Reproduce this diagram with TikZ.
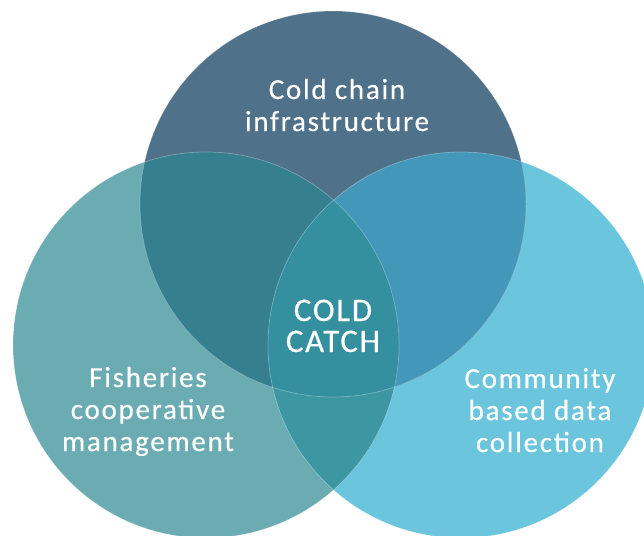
\documentclass[tikz,border=0pt]{standalone}
\usepackage{fontspec}
\setmainfont{Carlito}
\newfontfamily\labelfont{Carlito}[LetterSpace=6,FakeBold=0.4]
\newfontfamily\corefont{Carlito}[LetterSpace=5,FakeBold=0.4]
\begin{document}
\begin{tikzpicture}[x=1pt,y=-1pt,
  lbl/.style={text=white,align=center,font=\labelfont\fontsize{29}{32}\selectfont,inner sep=0pt},
  core/.style={text=white,align=center,font=\corefont\fontsize{33}{31}\selectfont,inner sep=0pt},
  rim/.style={draw=white,draw opacity=0.3,line width=0.7pt}]
\definecolor{cTop}{HTML}{4F718A}
\definecolor{cLeft}{HTML}{6BACB3}
\definecolor{cRight}{HTML}{6AC5DD}
\definecolor{cTL}{HTML}{357F8F}
\definecolor{cTR}{HTML}{4398B9}
\definecolor{cLR}{HTML}{3D97A3}
\definecolor{cAll}{HTML}{348F9E}
\def\R{193pt}
\useasboundingbox (0,0) rectangle (644,535);
\coordinate (T) at (333,204);
\coordinate (L) at (206,345);
\coordinate (Rc) at (461,345);
% single circles
\fill[cLeft] (L) circle[radius=\R];
\fill[cRight] (Rc) circle[radius=\R];
\fill[cTop] (T) circle[radius=\R];
% pairwise overlaps
\begin{scope}
  \clip (T) circle[radius=\R];
  \fill[cTL] (L) circle[radius=\R];
  \fill[cTR] (Rc) circle[radius=\R];
\end{scope}
\begin{scope}
  \clip (L) circle[radius=\R];
  \fill[cLR] (Rc) circle[radius=\R];
  % centre, shared by all three
  \clip (T) circle[radius=\R];
  \fill[cAll] (Rc) circle[radius=\R];
\end{scope}
% faint rims
\draw[rim] (L) circle[radius=\R];
\draw[rim] (Rc) circle[radius=\R];
\draw[rim] (T) circle[radius=\R];
% labels (anchored on the baseline of their last line)
\node[lbl,anchor=base] (top) at (337,131) {Cold chain\\infrastructure};
\node[lbl,anchor=base] (left) at (148,451) {Fisheries\\cooperative\\management};
\node[lbl,anchor=base] (right) at (540,452) {Community\\based data\\collection};
\node[core,anchor=base] (mid) at (333,352) {COLD\\CATCH};
\end{tikzpicture}
\end{document}
